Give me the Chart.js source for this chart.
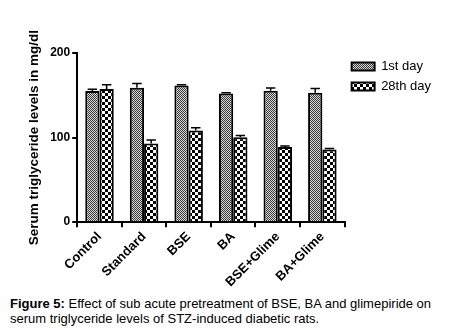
<!DOCTYPE html>
<html>
<head>
<meta charset="utf-8">
<script src="https://cdn.jsdelivr.net/npm/chart.js@4"></script>
<style>
  body { margin: 0; background: #fff; width: 461px; height: 328px; overflow: hidden; position: relative; }
  #wrap { position: absolute; left: 0; top: 0; width: 461px; height: 295px; }
  #caption { position: absolute; left: 10px; top: 296px; width: 445px; font-family: Arial, "Liberation Sans", sans-serif; font-size: 13px; line-height: 15px; color: #000; }
</style>
</head>
<body>
<div id="wrap"><canvas id="myChart" width="461" height="295"></canvas></div>
<div id="caption"><b>Figure 5:</b> Effect of sub acute pretreatment of BSE, BA and glimepiride on serum triglyceride levels of STZ-induced diabetic rats.</div>
<script>
// groups and values
const groups = ['Control', 'Standard', 'BSE', 'BA', 'BSE+Glime', 'BA+Glime'];
const day1 = [155, 159, 161.5, 152, 155.5, 153];
const day1Err = [2, 5, 1, 1, 3, 5];
const day28 = [157.5, 93, 108.5, 100.5, 89, 86];
const day28Err = [5, 4, 3, 2, 1, 1];
const seriesNames = ['1st day', '28th day'];
const yTicks = [0, 100, 200];

// checker fills like the print
function checker(size, dark, light) {
    const c = document.createElement('canvas');
    c.width = size * 2;
    c.height = size * 2;
    const g = c.getContext('2d');
    g.fillStyle = light;
    g.fillRect(0, 0, size * 2, size * 2);
    g.fillStyle = dark;
    g.fillRect(0, 0, size, size);
    g.fillRect(size, size, size, size);
    return g.createPattern(c, 'repeat');
}
const fineFill = checker(1, '#3a3a3a', '#d8d8d8');
const coarseFill = checker(3, '#000000', '#ffffff');

const errorBars = {
    id: 'errorBars',
    afterDatasetsDraw(chart) {
        const ctx = chart.ctx;
        const yScale = chart.scales.y;
        const errs = [day1Err, day28Err];
        ctx.save();
        ctx.strokeStyle = '#000';
        ctx.lineWidth = 1.5;
        chart.data.datasets.forEach((ds, i) => {
            const meta = chart.getDatasetMeta(i);
            meta.data.forEach((bar, j) => {
                const top = yScale.getPixelForValue(ds.data[j] + errs[i][j]);
                const half = bar.width * 0.33;
                ctx.beginPath();
                ctx.moveTo(bar.x, bar.y);
                ctx.lineTo(bar.x, top);
                ctx.moveTo(bar.x - half, top);
                ctx.lineTo(bar.x + half, top);
                ctx.stroke();
            });
        });
        ctx.restore();
    }
};

const fam = 'Arial, "Liberation Sans", sans-serif';

new Chart(document.getElementById('myChart'), {
    type: 'bar',
    data: {
        labels: groups,
        datasets: [{
            label: seriesNames[0],
            data: day1,
            backgroundColor: fineFill,
            borderColor: '#000',
            borderWidth: 2
        }, {
            label: seriesNames[1],
            data: day28,
            backgroundColor: coarseFill,
            borderColor: '#000',
            borderWidth: 2
        }]
    },
    options: {
        responsive: false,
        animation: false,
        layout: { padding: { top: 53, left: 20, right: 20, bottom: 3 } },
        categoryPercentage: 0.64,
        barPercentage: 1.0,
        plugins: {
            tooltip: { enabled: false },
            legend: {
                position: 'right',
                align: 'start',
                labels: {
                    boxWidth: 23,
                    boxHeight: 8,
                    padding: 7,
                    color: '#000',
                    font: { family: fam, size: 13 }
                }
            }
        },
        scales: {
            x: {
                grid: { display: true, drawOnChartArea: false, drawTicks: true, tickLength: 5, color: '#000', lineWidth: 2 },
                border: { display: true, color: '#000', width: 2 },
                ticks: { color: '#000', font: { family: fam, weight: 'bold', size: 13 }, minRotation: 45, maxRotation: 45, padding: 2 }
            },
            y: {
                min: 0,
                max: 200,
                afterBuildTicks: axis => { axis.ticks = yTicks.map(v => ({ value: v })); },
                grid: { display: true, drawOnChartArea: false, drawTicks: true, tickLength: 5, color: '#000', lineWidth: 2 },
                border: { display: true, color: '#000', width: 2 },
                ticks: { color: '#000', font: { family: fam, weight: 'bold', size: 12 }, padding: 2 },
                title: { display: true, text: 'Serum triglyceride levels in mg/dl', color: '#000', font: { family: fam, weight: 'bold', size: 13.5 }, padding: 6 }
            }
        }
    },
    plugins: [errorBars]
});
</script>
</body>
</html>
